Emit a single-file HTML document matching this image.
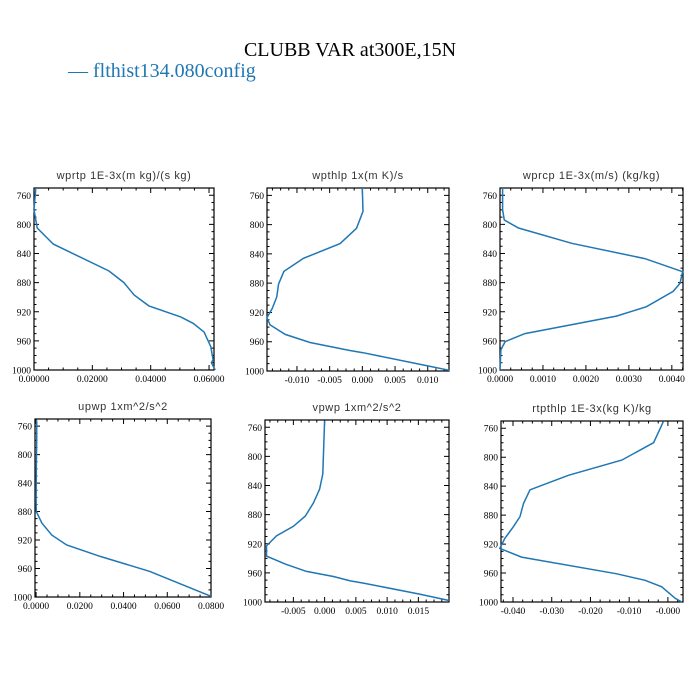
<!DOCTYPE html>
<html><head><meta charset="utf-8"><style>
body{margin:0;background:#fff}
svg{display:block}
.tl{font-family:"Liberation Serif",serif;font-size:9.5px;fill:#000}
.pt{font-family:"Liberation Sans",sans-serif;font-size:11px;fill:#333;letter-spacing:0.6px}
</style></head><body>
<svg id="chart" width="700" height="700" viewBox="0 0 700 700" xmlns="http://www.w3.org/2000/svg">
<rect width="700" height="700" fill="#fff"/>
<text x="350" y="56" text-anchor="middle" font-family="Liberation Serif, serif" font-size="20">CLUBB VAR at300E,15N</text>
<text x="68" y="77" font-family="Liberation Serif, serif" font-size="20" fill="#1f77b4">— flthist134.080config</text>
<g id="panels"></g>
</svg>
<script>
// pressure levels / values per panel
const p1 = [750,780,805,827,864,880,897,912,927,936,948,968,986,990,1000];
const v1 = [0.0006,0.0,0.0011,0.0066,0.0257,0.0308,0.0343,0.0394,0.0503,0.0546,0.0583,0.0606,0.0614,0.0608,0.0621];
const p2 = [750,782,805,826,846,864,881,899,915,927,937,950,961,972,975,993,999];
const v2 = [0.0,0.0001,-0.0009,-0.0034,-0.0090,-0.0120,-0.0128,-0.0131,-0.0138,-0.0146,-0.0141,-0.0118,-0.0080,-0.0019,0.0001,0.0100,0.0133];
const p3 = [750,780,794,805,826,847,865,881,892,913,926,950,961,972,1000];
const v3 = [0.00006,0.00006,0.0001,0.00043,0.00167,0.00337,0.00425,0.00419,0.00403,0.00341,0.00271,0.00058,0.00012,0.00002,0.0];
const p4 = [752,780,822,864,880,896,913,927,943,964,999];
const v4 = [0.0003,0.0003,0.0001,0.0,0.0001,0.0026,0.0072,0.014,0.0293,0.052,0.080];
const p5 = [751,824,845,864,882,896,909,923,937,948,958,965,971,974,989,998];
const v5 = [0.0,-0.0003,-0.0008,-0.0018,-0.0031,-0.005,-0.0077,-0.0093,-0.0093,-0.0063,-0.0029,0.0014,0.0041,0.0062,0.0151,0.0199];
const p6 = [751,780,804,825,845,864,882,896,912,926,938,961,970,979,995,1000];
const v6 = [-0.0012,-0.0037,-0.0119,-0.0257,-0.0356,-0.0373,-0.0382,-0.0399,-0.0421,-0.0434,-0.0378,-0.0132,-0.0059,-0.0016,0.0019,0.0036];
const yTicks = [760,800,840,880,920,960,1000];
const titles = ["wprtp  1E-3x(m kg)/(s kg)","wpthlp  1x(m K)/s","wprcp  1E-3x(m/s) (kg/kg)","upwp  1xm^2/s^2","vpwp  1xm^2/s^2","rtpthlp  1E-3x(kg K)/kg"];
const xt1 = [0,0.02,0.04,0.06], xl1 = ["0.00000","0.02000","0.04000","0.06000"];
const xt2 = [-0.01,-0.005,0,0.005,0.01], xl2 = ["-0.010","-0.005","0.000","0.005","0.010"];
const xt3 = [0,0.001,0.002,0.003,0.004], xl3 = ["0.0000","0.0010","0.0020","0.0030","0.0040"];
const xt4 = [0,0.02,0.04,0.06,0.08], xl4 = ["0.0000","0.0200","0.0400","0.0600","0.0800"];
const xt5 = [-0.005,0,0.005,0.01,0.015], xl5 = ["-0.005","0.000","0.005","0.010","0.015"];
const xt6 = [-0.04,-0.03,-0.02,-0.01,0], xl6 = ["-0.040","-0.030","-0.020","-0.010","-0.000"];

const panels = [
 {x0:34,x1:214,y0:188,y1:370,xmin:0,xmax:0.0617,p:p1,v:v1,xt:xt1,xl:xl1,step:0.02,name:"wprtp"},
 {x0:267,x1:449,y0:188,y1:371,xmin:-0.01458,xmax:0.01325,p:p2,v:v2,xt:xt2,xl:xl2,step:0.005,name:"wpthlp"},
 {x0:500,x1:683,y0:188,y1:370,xmin:0,xmax:0.00426,p:p3,v:v3,xt:xt3,xl:xl3,step:0.001,name:"wprcp"},
 {x0:35,x1:211,y0:419,y1:597,xmin:-0.0005,xmax:0.0800,p:p4,v:v4,xt:xt4,xl:xl4,step:0.02,name:"upwp"},
 {x0:265,x1:449,y0:420,y1:602,xmin:-0.00954,xmax:0.0199,p:p5,v:v5,xt:xt5,xl:xl5,step:0.005,name:"vpwp"},
 {x0:501,x1:683,y0:421,y1:602,xmin:-0.0431,xmax:0.0039,p:p6,v:v6,xt:xt6,xl:xl6,step:0.01,name:"rtpthlp"}
];
const NS="http://www.w3.org/2000/svg";
const root=document.getElementById("panels");
function mk(tag,attrs,parent){const e=document.createElementNS(NS,tag);for(const k in attrs)e.setAttribute(k,attrs[k]);parent.appendChild(e);return e;}
panels.forEach((P,i)=>{
  const g=mk("g",{},root);
  
  
  const sx=v=>P.x0+(v-P.xmin)/(P.xmax-P.xmin)*(P.x1-P.x0);
  const sy=p=>P.y0+(p-750)/(1000-750)*(P.y1-P.y0);
  const t=mk("text",{x:(P.x0+P.x1)/2,y:P.y0-9,"text-anchor":"middle",class:"pt"},g);
  t.textContent=titles[i];
  
  
  const fr=mk("rect",{x:P.x0,y:P.y0,width:P.x1-P.x0,height:P.y1-P.y0,fill:"none",stroke:"#000","stroke-width":1.2},g);
  
  
  let d="";
  // y ticks
  for(let p=750;p<=1000;p+=10){
    const y=sy(p);const major=(p-760)%40===0&&p>=760;const L=major?5:2.5;
    d+=`M${P.x0},${y}h${L}M${P.x1},${y}h${-L}`;
  }
  yTicks.forEach(p=>{
    const tx=mk("text",{x:P.x0-3,y:sy(p)+3.5,"text-anchor":"end",class:"tl"},g);
    tx.textContent=String(p);
    
    
  });
  // x ticks
  const minor=P.step/4;
  const start=Math.ceil(P.xmin/minor-1e-6)*minor;
  for(let v=start;v<=P.xmax+1e-12;v+=minor){
    const k=Math.round(v/minor);const major=k%4===0;const L=major?5:2.5;const x=sx(v);
    d+=`M${x},${P.y1}v${-L}M${x},${P.y0}v${L}`;
  }
  const tk=mk("path",{d:d,stroke:"#000","stroke-width":1,fill:"none"},g);
  
  
  P.xt.forEach((v,j)=>{
    const tx=mk("text",{x:sx(v),y:P.y1+12,"text-anchor":"middle",class:"tl"},g);
    tx.textContent=P.xl[j];
    
    
  });
  const pts=P.p.map((p,j)=>sx(P.v[j]).toFixed(1)+","+sy(p).toFixed(1)).join(" ");
  const ln=mk("polyline",{points:pts,fill:"none",stroke:"#1f77b4","stroke-width":1.5},g);
  
  
});
</script>
</body></html>
